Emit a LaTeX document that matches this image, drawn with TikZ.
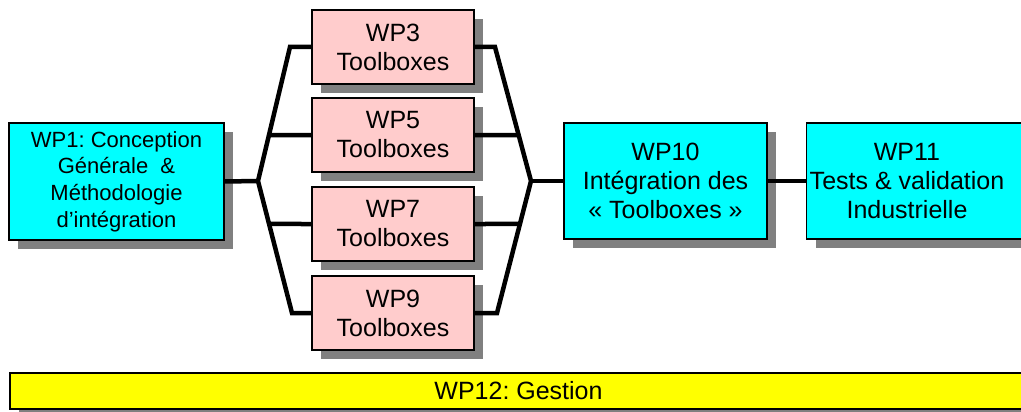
\documentclass[tikz,border=0pt]{standalone}
\usepackage{fontspec}
\setmainfont{Liberation Sans}
\usetikzlibrary{shadows}
\definecolor{wpcyan}{RGB}{0,255,255}
\definecolor{wppink}{RGB}{255,204,204}
\definecolor{wpyellow}{RGB}{255,255,0}
\definecolor{wpshade}{RGB}{128,128,128}
\frenchspacing

\begin{document}
\begin{tikzpicture}[x=1pt, y=-1pt, every node/.style={font=\fontsize{25}{29}\selectfont, align=center, inner sep=0pt},
	wpbox/.style={draw=black, line width=1.2pt, drop shadow={shadow xshift=9pt, shadow yshift=-9pt, fill=wpshade, opacity=1}},
	link/.style={line width=4.5pt}]
	\path[use as bounding box] (0,0) rectangle (1021,412);
	\clip (0,0) rectangle (1021,412);
	\node[wpbox, fill=wpcyan, minimum width=215pt, minimum height=117pt, font=\fontsize{22}{26.7}\selectfont] (wp1) at (116.5,181.5) {WP1: Conception\\Générale \ \&\\Méthodologie\\d’intégration};
	\foreach \n/\y in {3/47,5/135,7/224,9/313}
		\node[wpbox, fill=wppink, minimum width=162pt, minimum height=74pt] (wp\n) at (393,\y) {WP\n\\Toolboxes};
	\node[wpbox, fill=wpcyan, minimum width=203pt, minimum height=116pt] (wp10) at (665.5,181) {WP10\\Intégration des\\« Toolboxes »};
	\node[wpbox, fill=wpcyan, minimum width=250pt, minimum height=116pt, anchor=west] (wp11) at (806,181) {};
	\node (wp11text) at (907,181) {WP11\\Tests \& validation\\Industrielle};
	\node[wpbox, fill=wpyellow, minimum width=1017pt, minimum height=36pt] (wp12) at (518.5,391) {WP12: Gestion};
	\coordinate (lfork) at (258,181);
	\coordinate (ltop) at (290,47);
	\coordinate (lbot) at (292,313);
	\coordinate (rfork) at (531,181);
	\coordinate (rtop) at (495,47);
	\coordinate (rbot) at (497,313);
	\draw[link] (wp1.east) -- (lfork);
	\draw[link] (wp3.west) -- (ltop) -- (lfork) -- (lbot) -- (wp9.west);
	\draw[link] (wp3.east) -- (rtop) -- (rfork) -- (rbot) -- (wp9.east);
	\draw[link] (wp5.west) -- (intersection of wp5.west--wp5.east and ltop--lfork);
	\draw[link] (wp7.west) -- (intersection of wp7.west--wp7.east and lbot--lfork);
	\draw[link] (wp5.east) -- (intersection of wp5.west--wp5.east and rtop--rfork);
	\draw[link] (wp7.east) -- (intersection of wp7.west--wp7.east and rbot--rfork);
	\draw[link] (rfork) -- (wp10.west);
	\draw[link] (wp10.east) -- (wp11.west);
\end{tikzpicture}
\end{document}
